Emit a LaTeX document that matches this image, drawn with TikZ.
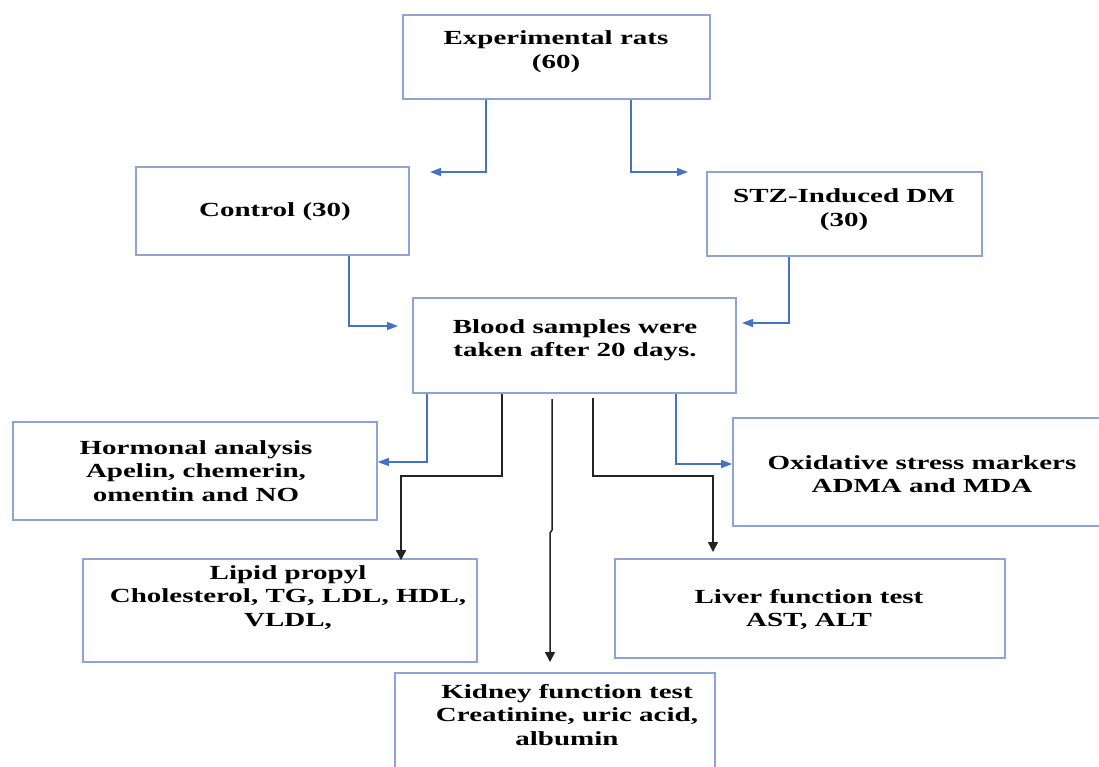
\documentclass[tikz,border=0pt]{standalone}
\usepackage{fontspec}
\setmainfont{Liberation Serif}[FakeStretch=1.45]
\usetikzlibrary{arrows.meta}
\definecolor{boxc}{RGB}{143,164,214}
\definecolor{arrb}{RGB}{68,114,196}
\definecolor{arrk}{RGB}{35,35,35}
\begin{document}
\begin{tikzpicture}[x=1pt,y=-1pt,
  box/.style={draw=boxc,line width=1.6pt,fill=white,rectangle,inner sep=0pt},
  txt/.style={align=center,font=\fontsize{20}{23.5}\selectfont\bfseries,text=black,inner sep=0pt},
  barrow/.style={draw=arrb,line width=1.5pt,-{Triangle[length=11pt,width=8pt]}},
  karrow/.style={draw=arrk,line width=1.5pt,-{Triangle[length=10pt,width=10pt]}}]
\useasboundingbox (0,0) rectangle (1099,766);
\clip (0,0) rectangle (1099,766);
\fill[white] (0,0) rectangle (1099,766);
% boxes
\node[box,minimum width=307,minimum height=84] (exp) at (556.5,57) {};
\node[box,minimum width=273,minimum height=88] (ctrl) at (272.5,211) {};
\node[box,minimum width=275,minimum height=84] (stz) at (844.5,214) {};
\node[box,minimum width=323,minimum height=95] (blood) at (574.5,345.5) {};
\node[box,minimum width=364,minimum height=98] (horm) at (195,471) {};
\node[box,minimum width=379,minimum height=108] (oxi) at (922.5,472) {};
\node[box,minimum width=394,minimum height=103] (lipid) at (280,610.5) {};
\node[box,minimum width=390,minimum height=99] (liver) at (810,608.5) {};
\node[box,minimum width=320,minimum height=117] (kid) at (555,731.5) {};
% texts
\node[txt] (expt) at (556,51.5) {Experimental rats\\(60)};
\node[txt] (ctrlt) at (275,212) {Control (30)};
\node[txt] (stzt) at (844,209.5) {STZ-Induced DM\\(30)};
\node[txt] (bloodt) at (575,340) {Blood samples were\\taken after 20 days.};
\node[txt] (hormt) at (196,471) {Hormonal analysis\\Apelin, chemerin,\\omentin and NO};
\node[txt] (oxit) at (922,474) {Oxidative stress markers\\ADMA and MDA};
\node[txt] (lipidt) at (288,597.5) {Lipid propyl\\Cholesterol, TG, LDL, HDL,\\VLDL,};
\node[txt] (livert) at (809,609.5) {Liver function test\\AST, ALT};
\node[txt] (kidt) at (567,715) {Kidney function test\\Creatinine, uric acid,\\albumin};
% bend and end coordinates
\coordinate (k1) at (486,172); \coordinate (k1e) at (430,172);
\coordinate (k2) at (631,172); \coordinate (k2e) at (688,172);
\coordinate (k3) at (349,326); \coordinate (k3e) at (398,326);
\coordinate (k4) at (789,323); \coordinate (k4e) at (742,323);
\coordinate (k5) at (427,462);
\coordinate (k6) at (676,464);
\coordinate (k7a) at (502,476); \coordinate (k7b) at (401,476);
\coordinate (k8s) at (552,399); \coordinate (k8a) at (552,530); \coordinate (k8b) at (550,533); \coordinate (k8e) at (550,662);
\coordinate (k9s) at (593,398); \coordinate (k9a) at (593,476); \coordinate (k9b) at (713,476); \coordinate (k9e) at (713,552);
% blue connectors
\draw[barrow] (exp.south -| k1) -- (k1) -- (k1e);
\draw[barrow] (exp.south -| k2) -- (k2) -- (k2e);
\draw[barrow] (ctrl.south -| k3) -- (k3) -- (k3e);
\draw[barrow] (stz.south -| k4) -- (k4) -- (k4e);
\draw[barrow] (blood.south -| k5) -- (k5) -- (horm.east |- k5);
\draw[barrow] (blood.south -| k6) -- (k6) -- (oxi.west |- k6);
% black connectors
\draw[karrow] (blood.south -| k7a) -- (k7a) -- (k7b) -- ([yshift=-2pt]lipid.north -| k7b);
\draw[karrow] (k8s) -- (k8a) -- (k8b) -- (k8e);
\draw[karrow] (k9s) -- (k9a) -- (k9b) -- (k9e);
\end{tikzpicture}
\end{document}
